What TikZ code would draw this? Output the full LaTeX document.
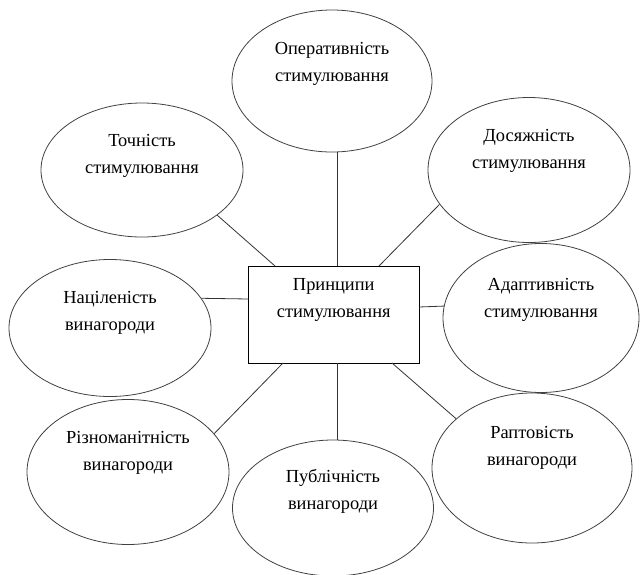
\documentclass[tikz,border=0pt]{standalone}
\usepackage{fontspec}
\setmainfont{Liberation Serif}
\usetikzlibrary{shapes.geometric}
\begin{document}
\begin{tikzpicture}[x=1pt,y=1pt,
  oval/.style={ellipse,draw=black!75,line width=0.8pt,inner sep=0pt},
  txt/.style={align=center,font=\fontsize{18.4}{27}\selectfont},
  conn/.style={draw=black!80,line width=0.8pt}]
\useasboundingbox (0,0) rectangle (640,-574);
% ellipses: label text placed above centre, as in the reference
\node[oval,minimum width=200pt,minimum height=142pt,
  label={[txt,yshift=17pt]center:Оперативність\\стимулювання}] (e1) at (332,-81) {};
\node[oval,minimum width=202pt,minimum height=134pt,
  label={[txt,yshift=14pt]center:Точність\\стимулювання}] (e2) at (142,-170) {};
\node[oval,minimum width=202pt,minimum height=145pt,
  label={[txt,yshift=19pt]center:Досяжність\\стимулювання}] (e3) at (529,-170) {};
\node[oval,minimum width=202pt,minimum height=137pt,
  label={[txt,yshift=15pt]center:Націленість\\винагороди}] (e4) at (110,-328) {};
\node[oval,minimum width=196pt,minimum height=149pt,
  label={[txt,yshift=18pt]center:Адаптивність\\стимулювання}] (e5) at (541,-318) {};
\node[oval,minimum width=202pt,minimum height=145pt,
  label={[txt,yshift=19pt]center:Різноманітність\\винагороди}] (e6) at (128,-472) {};
\node[oval,minimum width=201pt,minimum height=136pt,
  label={[txt,yshift=17pt]center:Публічність\\винагороди}] (e7) at (333,-508) {};
\node[oval,minimum width=200pt,minimum height=150pt,
  label={[txt,yshift=20pt]center:Раптовість\\винагороди}] (e8) at (532,-468) {};
% centre box
\node[draw=black,line width=0.9pt,minimum width=170.5pt,minimum height=97pt,inner sep=0pt,
  label={[txt,yshift=15pt]center:Принципи\\стимулювання}] (r) at (333.75,-314.5) {};
% connector end points on the box
\coordinate (rtl) at (275,-266);
\coordinate (rt)  at (337,-266);
\coordinate (rtr) at (379,-266);
\coordinate (rl)  at (248.5,-299);
\coordinate (rr)  at (419,-307);
\coordinate (rbl) at (283,-363);
\coordinate (rb)  at (337,-363);
\coordinate (rbr) at (392,-363);
% connectors
\draw[conn] (rtl) -- (e2.-31);
\draw[conn] (rt) -- (rt |- e1.south);
\draw[conn] (rtr) -- (e3.-159.3);
\draw[conn] (rl) -- (e4.18);
\draw[conn] (rr) -- (e5.173.6);
\draw[conn] (rbl) -- (e6.24.6);
\draw[conn] (rb) -- (rb |- e7.north);
\draw[conn] (rbr) -- (e8.147);
\end{tikzpicture}
\end{document}
